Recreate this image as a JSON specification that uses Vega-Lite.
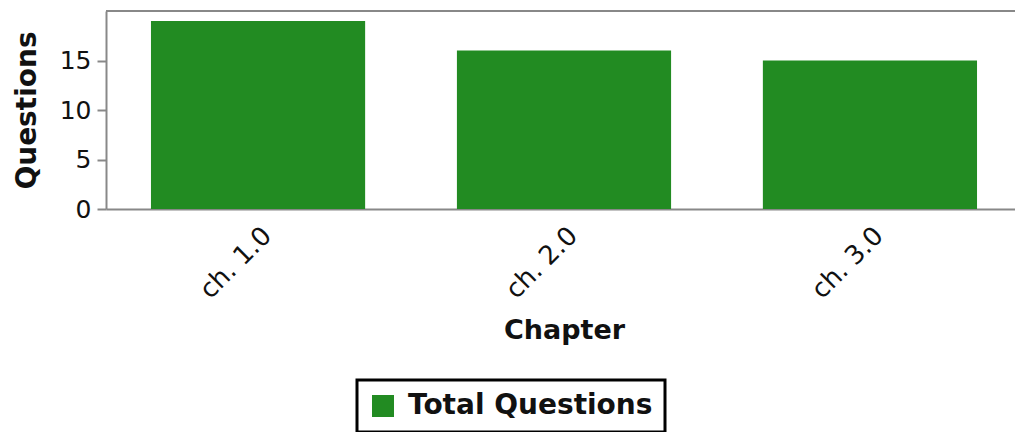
{
  "$schema": "https://vega.github.io/schema/vega-lite/v6.json",
  "autosize": "none",
  "width": 916,
  "height": 198,
  "padding": {"left": 106, "top": 11, "right": 0, "bottom": 223},
  "background": "white",
  "config": {
    "view": {"stroke": null},
    "font": "DejaVu Sans"
  },
  "data": {"values": [
    {"chapter": "ch. 1.0", "questions": 19, "series": "Total Questions"},
    {"chapter": "ch. 2.0", "questions": 16, "series": "Total Questions"},
    {"chapter": "ch. 3.0", "questions": 15, "series": "Total Questions"}
  ]},
  "layer": [
    {
      "mark": {"type": "bar"},
      "encoding": {
        "x": {
          "field": "chapter", "type": "nominal", "sort": null,
          "scale": {"paddingInner": 0.3, "paddingOuter": 0.147},
          "axis": {
            "title": "Chapter", "labelAngle": -45, "labelFontSize": 26,
            "labelColor": "#111", "ticks": false, "labelPadding": 13, "labelDx": 9,
            "domainColor": "#888", "domainWidth": 2,
            "titleFontSize": 27, "titleFontWeight": "bold", "titleColor": "#111", "titlePadding": 14
          }
        },
        "y": {
          "field": "questions", "type": "quantitative",
          "scale": {"domain": [0, 20], "nice": false},
          "axis": {
            "title": "Questions", "values": [0, 5, 10, 15], "grid": false,
            "labelFontSize": 25, "labelColor": "#111", "labelPadding": 6,
            "tickColor": "#888", "tickSize": 9, "tickWidth": 2,
            "domainColor": "#888", "domainWidth": 2,
            "titleFontSize": 28, "titleFontWeight": "bold", "titleColor": "#111", "titlePadding": 18
          }
        },
        "color": {
          "field": "series", "type": "nominal",
          "scale": {"range": ["#228B22"]},
          "legend": {
            "title": null, "orient": "none", "legendX": 251, "legendY": 369,
            "symbolType": "square", "symbolSize": 484, "symbolStrokeWidth": 0,
            "labelFontSize": 28, "labelFontWeight": "bold", "labelColor": "#111", "labelLimit": 500,
            "strokeColor": "black", "padding": 12, "labelOffset": 11,
            "encode": {"legend": {"update": {"strokeWidth": {"value": 3}}}}
          }
        }
      }
    },
    {
      "mark": {"type": "rule", "color": "#888", "strokeWidth": 2},
      "encoding": {"y": {"datum": 20}}
    }
  ]
}
